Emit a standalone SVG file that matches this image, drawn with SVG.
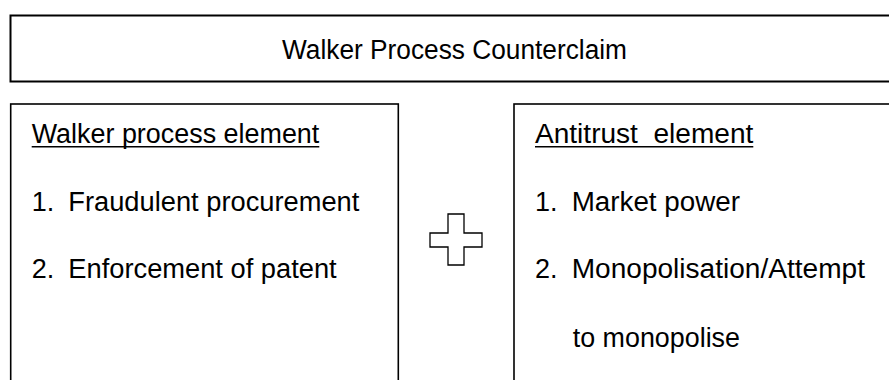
<svg xmlns="http://www.w3.org/2000/svg" width="889" height="380" viewBox="0 0 889 380">
<style>
.box{fill:#fff;stroke:#000;}
.t{font-family:"Liberation Sans",Arial,sans-serif;font-size:27px;fill:#000;}
.u{stroke:#000;stroke-width:1.6;}
</style>
<rect width="889" height="380" fill="#fff"/>
<g id="title">
<rect class="box" x="10.5" y="15.5" width="890" height="66" stroke-width="2"/>
<text class="t" x="282" y="59" textLength="345" lengthAdjust="spacingAndGlyphs">Walker Process Counterclaim</text>
</g>
<g id="walker">
<rect class="box" x="10.7" y="104" width="387.6" height="300" stroke-width="1.6"/>
<text class="t" x="31.7" y="143" textLength="287.6" lengthAdjust="spacingAndGlyphs">Walker process element</text>
<line class="u" x1="31.7" y1="146.8" x2="319.3" y2="146.8"/>
<text class="t" y="210.7"><tspan x="31.7">1.</tspan><tspan x="68.3" textLength="291" lengthAdjust="spacingAndGlyphs">Fraudulent procurement</tspan></text>
<text class="t" y="278.3"><tspan x="31.7">2.</tspan><tspan x="68.3" textLength="268.4" lengthAdjust="spacingAndGlyphs">Enforcement of patent</tspan></text>
</g>
<g id="plus">
<path d="M448,214 H464 V233 H482 V247 H464 V265 H448 V247 H430 V233 H448 Z" fill="#fff" stroke="#000" stroke-width="1.3"/>
</g>
<g id="antitrust">
<rect class="box" x="514" y="104" width="400" height="300" stroke-width="1.6"/>
<text class="t" x="535" y="143" textLength="218.3" lengthAdjust="spacingAndGlyphs" xml:space="preserve">Antitrust  element</text>
<line class="u" x1="535" y1="146.8" x2="753.3" y2="146.8"/>
<text class="t" y="210.7"><tspan x="535">1.</tspan><tspan x="571.7" textLength="168.3" lengthAdjust="spacingAndGlyphs">Market power</tspan></text>
<text class="t" y="278.3"><tspan x="535">2.</tspan><tspan x="571.7" textLength="293.3" lengthAdjust="spacingAndGlyphs">Monopolisation/Attempt</tspan></text>
<text class="t" x="572.7" y="346.7" textLength="167.3" lengthAdjust="spacingAndGlyphs">to monopolise</text>
</g>
<g id="connectors"></g>
</svg>
